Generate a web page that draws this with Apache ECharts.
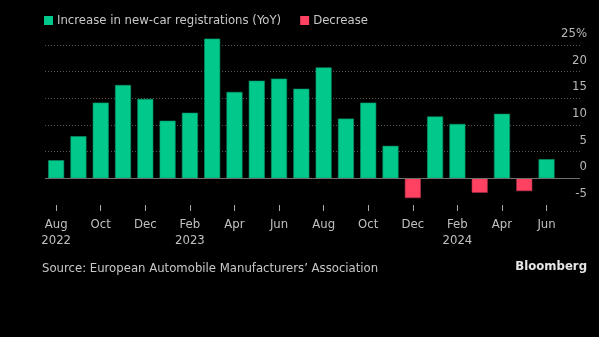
<!DOCTYPE html>
<html>
<head>
<meta charset="utf-8">
<script src="https://cdn.jsdelivr.net/npm/echarts@6/dist/echarts.min.js"></script>
<style>
html,body{margin:0;padding:0;background:#000;}
#c{width:599px;height:337px;}
</style>
</head>
<body>
<div id="c"></div>
<script>
const categories = ['Aug\n2022','Sep','Oct','Nov','Dec','Jan','Feb\n2023','Mar','Apr','May','Jun','Jul','Aug','Sep','Oct','Nov','Dec','Jan','Feb\n2024','Mar','Apr','May','Jun'];
const yoyChange = [3.4,7.9,14.2,17.5,14.9,10.8,12.3,26.2,16.2,18.3,18.7,16.8,20.8,11.2,14.2,6.1,-3.7,11.6,10.2,-2.7,12.1,-2.4,3.6];
const yTicks = [-5,0,5,10,15,20,25];
const seriesNames = ['Increase in new-car registrations (YoY)','Decrease'];

const FONT = '"DejaVu Sans Condensed","Liberation Sans Narrow",sans-serif';
const cats = categories.concat(['']);
const inc = yoyChange.map(v => v >= 0 ? v : null).concat([null]);
const dec = yoyChange.map(v => v < 0 ? v : null).concat([null]);

const chart = echarts.init(document.getElementById('c'), null, {renderer:'canvas'});
chart.setOption({
  backgroundColor:'#000',
  animation:false,
  textStyle:{fontFamily:FONT},
  legend:{
    left:39, top:9, itemWidth:9, itemHeight:9, itemGap:19,
    icon:'rect',
    itemStyle:{borderWidth:0},
    textStyle:{color:'#c8c8c8', fontSize:13, fontFamily:FONT, padding:[0,0,0,-1]},
    data:seriesNames
  },
  grid:{left:45, right:19, top:45, bottom:132, containLabel:false},
  xAxis:{
    type:'category', data:cats,
    axisLine:{show:false, onZero:false},
    axisTick:{show:true, alignWithLabel:true, interval:1, length:6, lineStyle:{color:'#aaa'}},
    axisLabel:{interval:1, color:'#c0c0c0', fontSize:13, fontFamily:FONT, margin:12, lineHeight:16},
    splitLine:{show:false}
  },
  yAxis:{
    type:'value', position:'right', min:yTicks[0], max:yTicks[yTicks.length-1], interval:5,
    axisLine:{show:false}, axisTick:{show:false},
    axisLabel:{
      color:'#b8b8b8', fontSize:13, fontFamily:FONT, align:'right', verticalAlign:'bottom', margin:7,
      padding:[0,0,5,0],
      formatter:v => v === yTicks[yTicks.length-1] ? v + '%' : String(v)
    },
    splitLine:{show:true, lineStyle:{color:['transparent','transparent','#555','#555','#555','#555','#555'], type:[1,2], width:1}}
  },
  series:[
    {
      name:seriesNames[0], type:'bar', stack:'a', data:inc, barWidth:16, clip:false,
      itemStyle:{color:'#00c98b', borderColor:'#0a8f66', borderWidth:0.6},
      markLine:{
        silent:true, symbol:'none', label:{show:false},
        lineStyle:{color:'#707070', type:'solid', width:1},
        data:[{yAxis:0}]
      }
    },
    {
      name:seriesNames[1], type:'bar', stack:'a', data:dec, barWidth:16, clip:false,
      itemStyle:{color:'#ff4262', borderColor:'#b0304a', borderWidth:0.6}
    }
  ],
  graphic:[
    {type:'text', left:42, top:262, style:{text:'Source: European Automobile Manufacturers\u2019 Association', fill:'#c8c8c8', font:'13px '+FONT}},
    {type:'text', right:12, top:260, style:{text:'Bloomberg', fill:'#e6e6e6', font:'bold 13px '+FONT}}
  ]
});
</script>
</body>
</html>
